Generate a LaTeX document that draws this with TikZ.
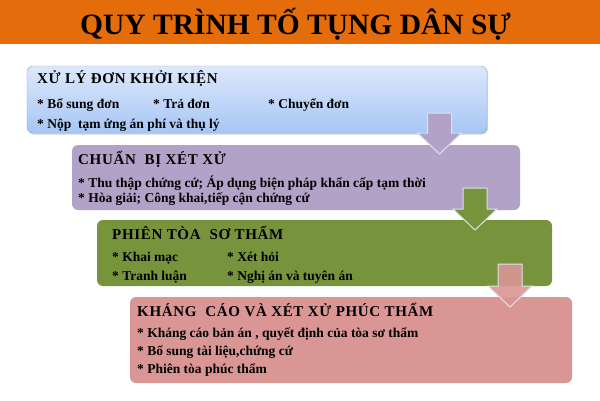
\documentclass[tikz,border=0pt]{standalone}
\usepackage{fontspec}
\setmainfont{Liberation Serif}
\newfontfamily\headfont[LetterSpace=4.5]{Liberation Serif}
\usetikzlibrary{positioning}
\usetikzlibrary{shadows}

\definecolor{bannerorange}{HTML}{E46C0A}
\definecolor{bluetop}{HTML}{DDE8FB}
\definecolor{bluebottom}{HTML}{A6C6F5}
\definecolor{blueline}{HTML}{87A5D6}
\definecolor{lilac}{HTML}{B3A2C7}
\definecolor{olive}{HTML}{77933C}
\definecolor{rose}{HTML}{D99694}
\definecolor{arrowline}{HTML}{DCE2EC}

\tikzset {
  % coloured stage of the procedure
  stage box/.style = {
    rectangle,
    rounded corners = 6pt,
    inner sep = 0,
    outer sep = 0,
    anchor = north west
  },
  % first stage, shaded blue with a border
  blue stage/.style = {
    stage box,
    draw = blueline,
    top color = bluetop,
    bottom color = bluebottom,
    drop shadow = {shadow xshift = 1pt, shadow yshift = -1.5pt, opacity = 0.35}
  },
  % heading of a stage
  head text/.style = {
    anchor = base west,
    inner sep = 0,
    font = \headfont\fontsize{15}{15}\selectfont\bfseries
  },
  % bullet item of a stage
  item text/.style = {
    anchor = base west,
    inner sep = 0,
    font = \fontsize{13.5}{13.5}\selectfont\bfseries
  },
  % block arrow between stages
  down arrow/.style = {
    draw = arrowline,
    line width = 1pt,
    line join = miter
  }
}

\begin{document}
\begin{tikzpicture}[x=1pt, y=-1pt]
  \useasboundingbox (0,0) rectangle (600,400);

  \node[rectangle, fill = bannerorange, inner sep = 0, anchor = north west,
        minimum width = 600pt, minimum height = 44pt] (banner) at (0,0) {};
  \node[anchor = base west, inner sep = 0, font = \fontsize{29.5}{29.5}\selectfont\bfseries]
    (title) at (80,34) {QUY TRÌNH TỐ TỤNG DÂN SỰ};

  % stage 1
  \node[blue stage, minimum width = 460pt, minimum height = 67pt] (lodge) at (27,66) {};
  \node[head text] (lodge-head) at ([shift={(10,17)}]lodge.north west) {XỬ LÝ ĐƠN KHỞI KIỆN};
  \node[item text] (lodge-a) at ([shift={(10,42)}]lodge.north west) {* Bổ sung đơn};
  \node[item text] (lodge-b) at ([shift={(126,42)}]lodge.north west) {* Trả đơn};
  \node[item text] (lodge-c) at ([shift={(241,42)}]lodge.north west) {* Chuyển đơn};
  \node[item text] (lodge-d) at ([shift={(10,62)}]lodge.north west) {* Nộp~ tạm ứng án phí và thụ lý};

  % stage 2
  \node[stage box, fill = lilac, minimum width = 448pt, minimum height = 65pt] (prepare) at (72,145) {};
  \node[head text] (prepare-head) at ([shift={(6,19)}]prepare.north west) {CHUẨN~ BỊ XÉT XỬ};
  \node[item text] (prepare-a) at ([shift={(6,42)}]prepare.north west) {* Thu thập chứng cứ; Áp dụng biện pháp khẩn cấp tạm thời};
  \node[item text] (prepare-b) at ([shift={(6,57)}]prepare.north west) {* Hòa giải; Công khai,tiếp cận chứng cứ};

  \coordinate (arrow-1) at (439.5,113);
  \draw[down arrow, fill = lilac] (arrow-1) ++(-12,0) -- ++(24,0) -- ++(0,20) -- ++(10,0)
    -- ++(-22,21) -- ++(-22,-21) -- ++(10,0) -- cycle;

  % stage 3
  \node[stage box, fill = olive, minimum width = 455pt, minimum height = 66pt] (trial) at (97,220) {};
  \node[head text] (trial-head) at ([shift={(15,19)}]trial.north west) {PHIÊN TÒA~ SƠ THẨM};
  \node[item text] (trial-a) at ([shift={(15,41)}]trial.north west) {* Khai mạc};
  \node[item text] (trial-b) at ([shift={(130,41)}]trial.north west) {* Xét hỏi};
  \node[item text] (trial-c) at ([shift={(15,60)}]trial.north west) {* Tranh luận};
  \node[item text] (trial-d) at ([shift={(130,60)}]trial.north west) {* Nghị án và tuyên án};

  \coordinate (arrow-2) at (475,188);
  \draw[down arrow, fill = olive] (arrow-2) ++(-12,0) -- ++(24,0) -- ++(0,21) -- ++(10,0)
    -- ++(-22,21) -- ++(-22,-21) -- ++(10,0) -- cycle;

  % stage 4
  \node[stage box, fill = rose, minimum width = 442pt, minimum height = 86pt] (appeal) at (130,297) {};
  \node[head text] (appeal-head) at ([shift={(7,19)}]appeal.north west) {KHÁNG~ CÁO VÀ XÉT XỬ PHÚC THẨM};
  \node[item text] (appeal-a) at ([shift={(7,40)}]appeal.north west) {* Kháng cáo bản án , quyết định của tòa sơ thẩm};
  \node[item text] (appeal-b) at ([shift={(7,58)}]appeal.north west) {* Bổ sung tài liệu,chứng cứ};
  \node[item text] (appeal-c) at ([shift={(7,76)}]appeal.north west) {* Phiên tòa phúc thẩm};

  \coordinate (arrow-3) at (510,264);
  \draw[down arrow, fill = rose, fill opacity = 0.9] (arrow-3) ++(-12,0) -- ++(24,0) -- ++(0,22) -- ++(10,0)
    -- ++(-22,21) -- ++(-22,-21) -- ++(10,0) -- cycle;
\end{tikzpicture}
\end{document}
